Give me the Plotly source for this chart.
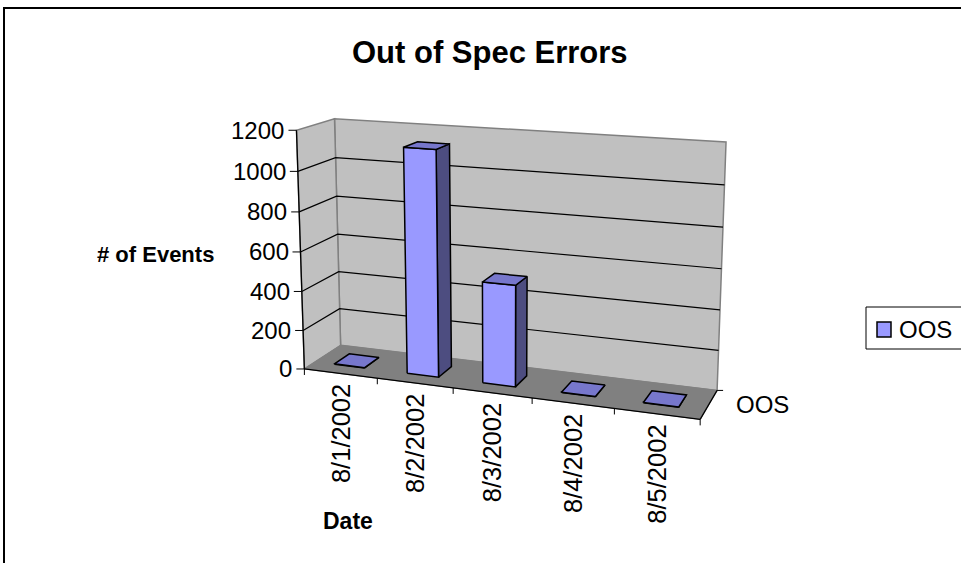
import numpy as np
import plotly.graph_objects as go

# ---------------- data ----------------
categories = ["8/1/2002", "8/2/2002", "8/3/2002", "8/4/2002", "8/5/2002"]
series_name = "OOS"
values = [2, 1130, 505, 2, 2]
y_ticks = [0, 200, 400, 600, 800, 1000, 1200]
y_max = 1200

title_text = "Out of Spec Errors"
y_title = "# of Events"
x_title = "Date"

# ---------------- layout / projection calibration ----------------
W, H = 961, 563
FONT = "Liberation Sans, Arial, sans-serif"
C_FRONT = "#9999FF"
C_TOP = "#7777CC"
C_SIDE = "#4D4D80"
C_WALL = "#C0C0C0"
C_FLOOR = "#808080"
C_EDGE = "#808080"

# frame corners of the 3-D box (category units, depth 0..1, height 0..1) -> pixel anchors
n = len(categories)
anchors_world = [(0, 0, 0), (0, 0, 1), (0, 1, 0), (0, 1, 1),
                 (n, 1, 0), (n, 1, 1), (n, 0, 0)]
anchors_px = [(305, 369.3), (296, 130), (340, 345), (335, 119),
              (717.3, 390.5), (726, 142), (700, 419.3)]


def fit_projection(world, img):
    A = []
    for (X, Y, Z), (u, v) in zip(world, img):
        u, v = u / 500.0, v / 500.0
        A.append([X, Y, Z, 1, 0, 0, 0, 0, -u * X, -u * Y, -u * Z, -u])
        A.append([0, 0, 0, 0, X, Y, Z, 1, -v * X, -v * Y, -v * Z, -v])
    _, _, vt = np.linalg.svd(np.array(A, dtype=float))
    return vt[-1].reshape(3, 4)


P = fit_projection(anchors_world, anchors_px)


def proj(X, D, Z):
    p = P @ np.array([X, D, Z, 1.0])
    return p[0] / p[2] * 500.0, p[1] / p[2] * 500.0


fig = go.Figure()


def poly(points, fill, line_color, lw):
    pts = [proj(*p) for p in points]
    xs = [q[0] for q in pts] + [pts[0][0]]
    ys = [q[1] for q in pts] + [pts[0][1]]
    fig.add_trace(go.Scatter(x=xs, y=ys, mode="lines", fill="toself",
                             fillcolor=fill,
                             line=dict(color=line_color, width=lw),
                             hoverinfo="skip", showlegend=False))


def seg(points, color, lw):
    pts = [proj(*p) for p in points]
    fig.add_trace(go.Scatter(x=[q[0] for q in pts], y=[q[1] for q in pts],
                             mode="lines", line=dict(color=color, width=lw),
                             hoverinfo="skip", showlegend=False))


def pxline(x0, y0, x1, y1, color="black", lw=1):
    fig.add_shape(type="line", x0=x0, y0=y0, x1=x1, y1=y1,
                  line=dict(color=color, width=lw), layer="above")


# walls and floor
poly([(0, 1, 0), (n, 1, 0), (n, 1, 1), (0, 1, 1)], C_WALL, C_EDGE, 1.5)
poly([(0, 0, 0), (0, 1, 0), (0, 1, 1), (0, 0, 1)], C_WALL, C_EDGE, 1.5)
poly([(0, 0, 0), (n, 0, 0), (n, 1, 0), (0, 1, 0)], C_FLOOR, C_FLOOR, 1)

# gridlines
for t in y_ticks[1:-1]:
    z = t / y_max
    seg([(0, 0, z), (0, 1, z), (n, 1, z)], "black", 1.2)

# axis lines
seg([(0, 0, 0), (0, 0, 1)], "black", 1.3)
seg([(0, 0, 0), (n, 0, 0)], "black", 1.3)
seg([(n, 0, 0), (n, 1, 0)], "black", 1.3)

# bars
BW = 0.42
BD = 0.42
for i, v in enumerate(values):
    x0 = i + (1 - BW) / 2 - 0.02
    x1 = x0 + BW
    d0 = (1 - BD) / 2
    d1 = d0 + BD
    z = v / y_max
    poly([(x1, d0, 0), (x1, d1, 0), (x1, d1, z), (x1, d0, z)], C_SIDE, "black", 1.5)
    poly([(x0, d0, 0), (x1, d0, 0), (x1, d0, z), (x0, d0, z)], C_FRONT, "black", 1.5)
    poly([(x0, d0, z), (x1, d0, z), (x1, d1, z), (x0, d1, z)], C_TOP, "black", 1.5)

annotations = []

# value axis ticks and labels
for t in y_ticks:
    x, y = proj(0, 0, t / y_max)
    pxline(x - 8, y, x, y)
    annotations.append(dict(x=x - 10, y=y, text=str(t), showarrow=False,
                            xanchor="right", yanchor="middle",
                            font=dict(family=FONT, size=24, color="black")))

# category axis ticks and labels
for i in range(n + 1):
    x, y = proj(i, 0, 0)
    pxline(x, y, x, y + 6)
for i, c in enumerate(categories):
    x, y = proj(i + 0.5, 0, 0)
    annotations.append(dict(x=x, y=y + 60, text=c, showarrow=False, textangle=-90,
                            xanchor="center", yanchor="middle",
                            font=dict(family=FONT, size=25.5, color="black")))

# depth axis
x, y = proj(n, 1, 0)
pxline(x, y, x + 6, y)
x, y = proj(n, 0.5, 0)
annotations.append(dict(x=x + 25, y=y, text=series_name, showarrow=False,
                        xanchor="left", yanchor="middle",
                        font=dict(family=FONT, size=24, color="black")))

# titles
annotations.append(dict(x=490, y=52, text="<b>%s</b>" % title_text, showarrow=False,
                        xanchor="center", yanchor="middle",
                        font=dict(family=FONT, size=31, color="black")))
annotations.append(dict(x=216, y=254, text="<b>%s</b>" % y_title, showarrow=False,
                        xanchor="right", yanchor="middle",
                        font=dict(family=FONT, size=22, color="black")))
annotations.append(dict(x=348, y=521, text="<b>%s</b>" % x_title, showarrow=False,
                        xanchor="center", yanchor="middle",
                        font=dict(family=FONT, size=23, color="black")))

# legend
fig.add_shape(type="rect", x0=866, y0=307, x1=990, y1=349,
              line=dict(color="black", width=1), fillcolor="white", layer="above")
fig.add_shape(type="rect", x0=877, y0=322, x1=891, y1=337,
              line=dict(color="black", width=1.5), fillcolor=C_FRONT, layer="above")
annotations.append(dict(x=897, y=329, text=series_name, showarrow=False,
                        xanchor="left", yanchor="middle",
                        font=dict(family=FONT, size=24, color="black")))

# chart border
fig.add_shape(type="rect", x0=4, y0=8, x1=1000, y1=620,
              line=dict(color="black", width=2), layer="above")

fig.update_layout(
    width=W, height=H,
    margin=dict(l=0, r=0, t=0, b=0),
    paper_bgcolor="white", plot_bgcolor="white",
    xaxis=dict(range=[0, W], visible=False, fixedrange=True),
    yaxis=dict(range=[H, 0], visible=False, fixedrange=True),
    annotations=annotations,
    showlegend=False,
)

fig.write_html("out.html",
               config={"displayModeBar": False},
               post_script="document.body.style.margin='0';document.body.style.overflow='hidden';")
